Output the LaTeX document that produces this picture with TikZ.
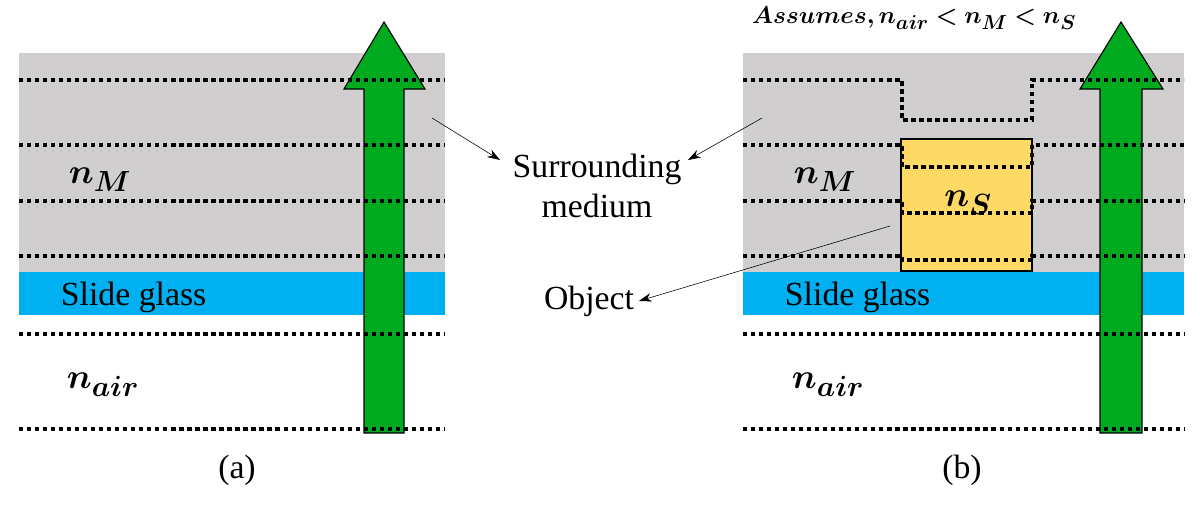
\documentclass[tikz,border=0pt]{standalone}
\usepackage{fontspec}
\usepackage{amsmath,bm}
\setmainfont{Liberation Serif}
\usetikzlibrary{arrows.meta}
\definecolor{mediumgray}{RGB}{208,206,206}
\definecolor{glassblue}{RGB}{0,176,240}
\definecolor{arrowgreen}{RGB}{0,170,30}
\definecolor{objyellow}{RGB}{255,217,102}
\begin{document}
\begin{tikzpicture}[
        x=0.025cm, y=-0.025cm,
        dots/.style={line width=2.4pt, dash pattern=on 3pt off 2.7pt},
        beam/.style={draw=black, fill=arrowgreen, line width=0.8pt},
        lbl/.style={font=\fontsize{24}{28}\selectfont, align=center},
        idx/.style={font=\fontsize{30}{34}\selectfont},
        pointer/.style={-{Stealth[length=9pt,width=6pt]}, thin}
    ]
        \useasboundingbox (0,0) rectangle (1200,507);
        % panel (a)
        \fill[mediumgray] (19,53) rectangle (445,272);
        \fill[glassblue] (19,272) rectangle (445,315);
        \draw[beam] (364,433) -- (364,89) -- (344,89) -- (384,22) -- (425,89) -- (404,89) -- (404,433) -- cycle;
        \foreach \y in {80,145,201,256,334,429} {
            \draw[dots] (19,\y) -- (445,\y);
        }
        \node[idx] (nm-a) at (100,180) {$\bm{n_M}$};
        \node[idx] (nair-a) at (103,385) {$\bm{n_{air}}$};
        \node[lbl, anchor=west] (glass-a) at (56,297) {Slide glass};
        \node[lbl] (cap-a) at (237,470) {(a)};

        % panel (b)
        \fill[mediumgray] (743,53) rectangle (1184,272);
        \fill[glassblue] (743,272) rectangle (1184,315);
        \draw[fill=objyellow, thick] (901,139) rectangle (1032,271);
        \draw[beam] (1100,433) -- (1100,89) -- (1080,89) -- (1121,22) -- (1163,89) -- (1142,89) -- (1142,433) -- cycle;
        \draw[dots] (743,80) -- (902,80) -- (902,120) -- (1032,120) -- (1032,80) -- (1184,80);
        \foreach \yo/\yi in {145/167,201/213,256/260} {
            \draw[dots] (743,\yo) -- (902,\yo) -- (902,\yi) -- (1032,\yi) -- (1032,\yo) -- (1184,\yo);
        }
        \foreach \y in {334,429} {
            \draw[dots] (743,\y) -- (1184,\y);
        }
        \node[idx] (nm-b) at (825,180) {$\bm{n_M}$};
        \node[idx] (ns-b) at (968,203) {$\bm{n_S}$};
        \node[idx] (nair-b) at (828,385) {$\bm{n_{air}}$};
        \node[lbl, anchor=west] (glass-b) at (780,297) {Slide glass};
        \node[lbl] (cap-b) at (962,470) {(b)};
        \node[font=\fontsize{19}{22}\selectfont] (assume) at (914,18) {$\bm{Assumes, n_{air} < n_M < n_S}$};

        % labels in the middle
        \node[lbl] (medium) at (597,186) {Surrounding\\medium};
        \node[lbl] (object) at (589,301) {Object};
        \coordinate (med-a) at (432,118);
        \coordinate (med-b) at (762,118);
        \coordinate (obj-b) at (890,226);
        \draw[pointer] (med-a) -- (500,160);
        \draw[pointer] (med-b) -- (688,160);
        \draw[pointer] (obj-b) -- (object.east);
    \end{tikzpicture}
\end{document}
